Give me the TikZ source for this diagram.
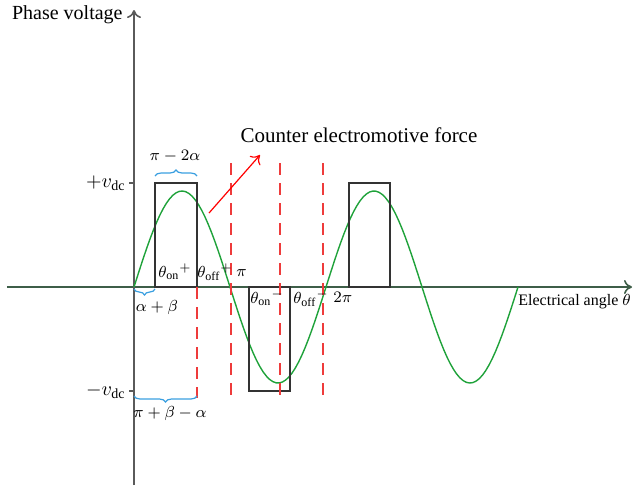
\documentclass[tikz,border=0pt]{standalone}
\usepackage{fontspec}
\setmainfont{Liberation Serif}
\usetikzlibrary{arrows.meta,decorations.pathreplacing}
\definecolor{axisgray}{HTML}{5A5A5A}
\definecolor{axisgreen}{HTML}{3E5E48}
\definecolor{wavegreen}{HTML}{1FA23A}
\definecolor{dashred}{HTML}{EE3B3B}
\definecolor{bracecyan}{HTML}{3A9FE0}
\tikzset{
  pulse/.style={draw=black!80, line width=0.6pt},
  marker/.style={dashred, dashed, dash pattern=on 6pt off 4pt, line width=0.7pt},
  curly/.style={bracecyan, line width=0.6pt, decoration={brace, amplitude=3pt}, decorate},
  lbl/.style={inner sep=0pt, font=\footnotesize}
}
\begin{document}
\begin{tikzpicture}[x=0.5pt, y=0.5pt, >={To[length=4pt,width=7pt]}]
        \useasboundingbox (-134,-202) rectangle (506,287);

        % axes
        \coordinate (o) at (0,0);
        \coordinate (xs) at (-127,0);
        \coordinate (xe) at (498,0);
        \coordinate (ys) at (0,-198);
        \coordinate (ye) at (0,277);
        \draw[->, axisgreen, line width=0.8pt] (xs) -- (xe);
        \draw[->, axisgray, line width=0.8pt] (ys) -- (ye);
        \draw[axisgray, line width=0.6pt] (-5,104) -- (0,104);
        \draw[axisgray, line width=0.6pt] (-5,-104) -- (0,-104);

        % axis labels
        \node[anchor=east, inner sep=0pt] (ylabel) at (-11,272) {Phase voltage};
        \node[anchor=west, inner sep=0pt, font=\footnotesize] (xlabel) at (384,-15) {Electrical angle $\theta$};
        \node[anchor=east, inner sep=0pt] (vpos) at (-8,104) {$+v_{\mathrm{dc}}$};
        \node[anchor=east, inner sep=0pt] (vneg) at (-8,-104) {$-v_{\mathrm{dc}}$};

        % back-emf sine
        \draw[wavegreen, line width=0.7pt] plot[domain=0:384, samples=120] (\x, {96*sin(\x*1.875)});

        % phase voltage pulses
        \draw[pulse] (21,0) rectangle (63,104);
        \draw[pulse] (115,0) rectangle (156,-104);
        \draw[pulse] (215,0) rectangle (256,104);

        % switching instants
        \draw[marker] (63,0) -- (63,-111);
        \draw[marker] (97,124) -- (97,-111);
        \draw[marker] (146,124) -- (146,-113);
        \draw[marker] (189,124) -- (189,-113);

        % angle labels
        \node[lbl, anchor=west] (onp) at (24,15) {$\theta_{\mathrm{on}}{}^{+}$};
        \node[lbl, anchor=west] (offp) at (63,15) {$\theta_{\mathrm{off}}{}^{+}$};
        \node[lbl, anchor=west] (pi) at (102,14) {$\pi$};
        \node[lbl, anchor=west] (onn) at (116,-11) {$\theta_{\mathrm{on}}{}^{-}$};
        \node[lbl, anchor=west] (offn) at (159,-11) {$\theta_{\mathrm{off}}{}^{-}$};
        \node[lbl, anchor=west] (twopi) at (199,-10) {$2\pi$};

        % braces
        \draw[curly] (21,111) -- (63,111);
        \node[lbl] (width) at (41,131) {$\pi-2\alpha$};
        \draw[curly] (21,-2) -- (0,-2);
        \node[lbl] (lead) at (23,-20) {$\alpha+\beta$};
        \draw[curly] (63,-109) -- (0,-109);
        \node[lbl] (span) at (36,-126) {$\pi+\beta-\alpha$};

        % counter emf callout
        \node[font=\fontsize{10.5}{12}\selectfont] (emf) at (225,152) {Counter electromotive force};
        \coordinate (tail) at (75,74);
        \coordinate (head) at (126,132);
        \draw[->, red, line width=0.6pt] (tail) -- (head);
\end{tikzpicture}
\end{document}
